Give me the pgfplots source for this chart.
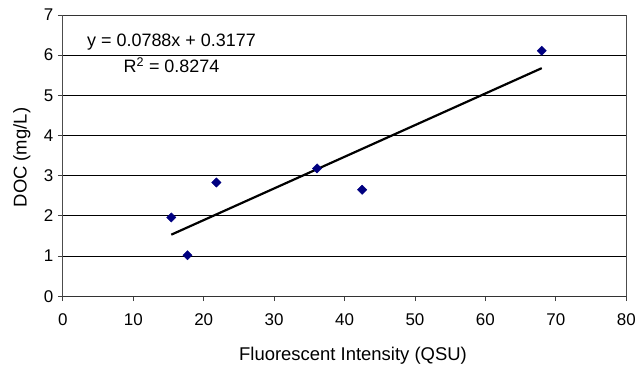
\documentclass[border=0pt]{standalone}
\usepackage{fontspec}
\setmainfont{Liberation Sans}
\usepackage{pgfplots}
\pgfplotsset{compat=1.18}
\definecolor{navy}{HTML}{000080}
\begin{document}
\begin{tikzpicture}[x=1pt,y=1pt]
\begin{axis}[
  at={(63pt,71pt)}, anchor=south west,
  scale only axis, width=565pt, height=282pt,
  xmin=0, xmax=80, ymin=0, ymax=7,
  xtick={0,10,...,80}, ytick={0,1,...,7},
  /pgf/number format/assume math mode=true,
  ticklabel style={font=\fontsize{17}{20}\selectfont},
  xticklabel style={yshift=-9pt},
  yticklabel style={xshift=-1pt},
  tick align=outside, tick style={black!75, line width=0.8pt},
  major tick length=5pt,
  xtick pos=bottom, ytick pos=left,
  ymajorgrids, grid style={black, line width=0.7pt},
  axis line style={black!50, line width=0.8pt},
  separate axis lines,
  x axis line style={black!80},
  y axis line style={black!70},
  clip=false,
]
\addplot[black, line width=2.2pt, no marks] coordinates {(15.4,1.531) (68.0,5.676)};
\addplot[only marks, mark=square*, mark size=3.3pt, mark options={rotate=45}, color=navy] coordinates {
  (15.4,1.96) (17.7,1.02) (21.8,2.83) (36.1,3.18) (42.5,2.65) (68.0,6.11)};
\node[font=\fontsize{18}{21}\selectfont, anchor=base, inner sep=0pt] at (axis cs:15.43,6.206) {y = 0.0788x + 0.3177};
\node[font=\fontsize{18}{21}\selectfont, anchor=base, inner sep=0pt] at (axis cs:15.43,5.56) {R\textsuperscript{2} = 0.8274};
\node[font=\fontsize{18.5}{21}\selectfont, anchor=base, inner sep=0pt] at (axis description cs:0.515,-0.227) {Fluorescent Intensity (QSU)};
\node[font=\fontsize{18.5}{21}\selectfont, rotate=90, anchor=center, inner sep=0pt] at (axis description cs:-0.0726,0.493) {DOC (mg/L)};
\end{axis}
\path (0,0) rectangle (639pt,368pt);
\end{tikzpicture}
\end{document}
